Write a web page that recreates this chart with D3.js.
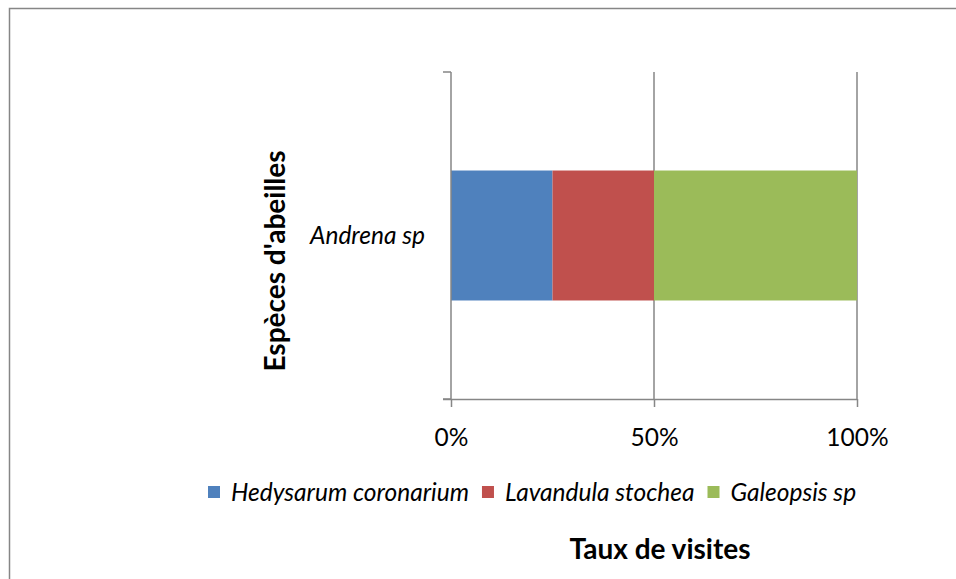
<!DOCTYPE html>
<html>
<head>
<meta charset="utf-8">
<script src="https://cdn.jsdelivr.net/npm/d3@7"></script>
<style>
  html, body { margin: 0; padding: 0; background: #fff; }
  svg { display: block; }
  text { font-family: Lato, "Open Sans", sans-serif; fill: #000; }
</style>
</head>
<body>
<svg id="chart" width="956" height="579"></svg>
<script>
// Bee species (one row) and share of visits per flowering plant
const categories = ["Andrena sp"];
const seriesNames = ["Hedysarum coronarium", "Lavandula stochea", "Galeopsis sp"];
const seriesColors = ["#4F81BD", "#C0504D", "#9BBB59"];
const hedysarum = [0.25];
const lavandula = [0.25];
const galeopsis = [0.50];
const tickValues = [0, 0.5, 1];
const tickLabels = ["0%", "50%", "100%"];

const rows = categories.map((c, i) => ({
  cat: c,
  [seriesNames[0]]: hedysarum[i],
  [seriesNames[1]]: lavandula[i],
  [seriesNames[2]]: galeopsis[i]
}));

const svg = d3.select("#chart");
const margin = { left: 451, right: 99, top: 72, bottom: 180 };
const W = 956, H = 579;
const labelSize = "24.5px";
const titleSize = "28px";

// outer chart frame
svg.append("rect")
  .attr("x", 9.5).attr("y", 8.5)
  .attr("width", 1000).attr("height", 700)
  .attr("fill", "none").attr("stroke", "#868686").attr("stroke-width", 1.5);

const x = d3.scaleLinear().domain([0, 1]).range([margin.left, W - margin.right]);
const y = d3.scaleBand().domain(categories).range([margin.top, H - margin.bottom]).paddingInner(0).paddingOuter(0.758);

// vertical gridlines
svg.append("g")
  .selectAll("line")
  .data(tickValues.filter(v => v > 0))
  .join("line")
  .attr("x1", d => x(d)).attr("x2", d => x(d))
  .attr("y1", margin.top).attr("y2", H - margin.bottom)
  .attr("stroke", "#868686").attr("stroke-width", 1.5);

// stacked bars
const stack = d3.stack().keys(seriesNames)(rows);
svg.append("g")
  .selectAll("g")
  .data(stack)
  .join("g")
  .attr("fill", (d, i) => seriesColors[i])
  .selectAll("rect")
  .data(d => d)
  .join("rect")
  .attr("x", d => x(d[0]))
  .attr("width", d => x(d[1]) - x(d[0]))
  .attr("y", d => y(d.data.cat))
  .attr("height", y.bandwidth());

// x axis
const xAxis = svg.append("g")
  .attr("transform", `translate(0,${H - margin.bottom})`)
  .call(d3.axisBottom(x).tickValues(tickValues).tickFormat((d, i) => tickLabels[i]).tickSize(8).tickSizeOuter(0));
xAxis.select(".domain").attr("stroke", "#868686").attr("stroke-width", 1.5)
  .attr("d", `M${margin.left - 8},0.5H${x(1)}`);
xAxis.selectAll(".tick line").attr("stroke", "#868686").attr("stroke-width", 1.5);
xAxis.selectAll(".tick text")
  .attr("y", 38)
  .attr("dy", "0.35em")
  .style("font-size", labelSize)
  .style("font-family", "Lato, 'Open Sans', sans-serif")
  .attr("fill", "#000");

// y axis (line plus category boundary ticks)
const yAxisG = svg.append("g").attr("transform", `translate(${margin.left},0)`);
yAxisG.append("line")
  .attr("x1", 0).attr("x2", 0)
  .attr("y1", margin.top).attr("y2", H - margin.bottom)
  .attr("stroke", "#868686").attr("stroke-width", 1.5);
yAxisG.selectAll("line.tk")
  .data([margin.top, H - margin.bottom])
  .join("line").attr("class", "tk")
  .attr("x1", -8).attr("x2", 0)
  .attr("y1", d => d).attr("y2", d => d)
  .attr("stroke", "#868686").attr("stroke-width", 1.5);
yAxisG.selectAll("text.cat")
  .data(categories)
  .join("text").attr("class", "cat")
  .attr("x", -26)
  .attr("y", d => y(d) + y.bandwidth() / 2)
  .attr("dy", "0.35em")
  .attr("text-anchor", "end")
  .style("font-size", labelSize)
  .style("font-style", "italic")
  .text(d => d);

// y axis title
svg.append("text")
  .attr("transform", `translate(275,261) rotate(-90)`)
  .attr("dy", "0.35em")
  .attr("text-anchor", "middle")
  .style("font-size", titleSize)
  .style("font-weight", "bold")
  .text("Espèces d'abeilles");

// legend
const legend = svg.append("g");
let lx = 208;
const ly = 492;
seriesNames.forEach((name, i) => {
  const g = legend.append("g");
  g.append("rect")
    .attr("x", lx).attr("y", ly - 6)
    .attr("width", 12).attr("height", 12)
    .attr("fill", seriesColors[i]);
  const t = g.append("text")
    .attr("x", lx + 23).attr("y", ly)
    .attr("dy", "0.35em")
    .style("font-size", labelSize)
    .style("font-style", "italic")
    .text(name);
  lx += 23 + t.node().getComputedTextLength() + 13;
});

// x axis title
svg.append("text")
  .attr("x", 660).attr("y", 549)
  .attr("dy", "0.35em")
  .attr("text-anchor", "middle")
  .style("font-size", titleSize)
  .style("font-weight", "bold")
  .text("Taux de visites");
</script>
</body>
</html>
